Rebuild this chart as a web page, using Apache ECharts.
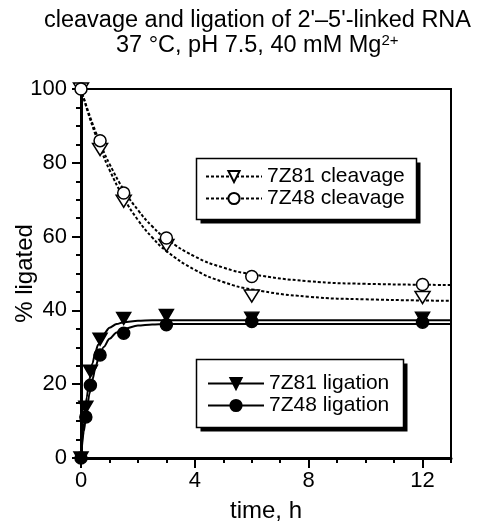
<!DOCTYPE html>
<html>
<head>
<meta charset="utf-8">
<title>cleavage and ligation of 2'-5'-linked RNA</title>
<script src="https://cdn.jsdelivr.net/npm/echarts@6/dist/echarts.min.js"></script>
<style>
    html, body {margin: 0; padding: 0; background: #fff;}
    #chartDiv {width: 478px; height: 521px;}
</style>
</head>
<body>
<div id="chartDiv"></div>
<script>
//------------------------------------------------------------------------------
// measured points (time in h, % ligated)
var cleavageTimes = [0, 0.67, 1.5, 3, 6, 12];
var cleavage7Z81 = [100, 83.6, 69.6, 57.6, 43.9, 43.5];
var cleavage7Z48 = [100, 86.0, 71.8, 59.6, 49.2, 47.0];

var ligationTimes = [0, 0.17, 0.33, 0.67, 1.5, 3, 6, 12];
var ligation7Z81 = [0, 13.8, 23.5, 32.2, 37.8, 38.6, 37.9, 37.9];
var ligation7Z48 = [0, 11.1, 19.7, 27.9, 33.8, 36.1, 37.0, 36.8];

// fitted curves
var fitCleavageTimes = [0, 0.25, 0.5, 0.75, 1, 1.5, 2, 2.5, 3, 4, 5, 6, 8, 10, 13];
var fitCleavage7Z81 = [100, 93.5, 87.8, 82.6, 78.1, 70.5, 64.5, 59.8, 56.1, 51.0, 47.7, 45.7, 43.7, 43.0, 42.6];
var fitCleavage7Z48 = [100, 94.0, 88.7, 83.9, 79.7, 72.7, 67.2, 62.8, 59.4, 54.6, 51.6, 49.8, 47.9, 47.2, 46.9];

var fitLigationTimes = [0, 0.1, 0.2, 0.3, 0.4, 0.5, 0.6, 0.8, 1, 1.25, 1.5, 2, 2.5, 3, 4, 6, 8, 10, 13];
var fitLigation7Z81 = [0, 9.4, 16.4, 21.7, 25.6, 28.5, 30.7, 33.6, 35.3, 36.3, 36.8, 37.2, 37.3, 37.3, 37.3, 37.3, 37.3, 37.3, 37.3];
var fitLigation7Z48 = [0, 7.2, 12.9, 17.5, 21.2, 24.2, 26.6, 30.1, 32.3, 34.0, 35.0, 35.9, 36.2, 36.3, 36.3, 36.3, 36.3, 36.3, 36.3];

// axis ticks / texts
var xLabelValues = [0, 4, 8, 12];
var titleLines = ["cleavage and ligation of 2'\u20135'-linked RNA", "37 \u00b0C, pH 7.5, 40 mM Mg{sup|2+}"];
var legendCleavage = ['7Z81 cleavage', '7Z48 cleavage'];
var legendLigation = ['7Z81 ligation', '7Z48 ligation'];
//------------------------------------------------------------------------------

var fontName = "'Liberation Sans', Arial, Helvetica, sans-serif";
var downTriangle = 'path://M0,0L12,0L6,10Z';

function pairs(xs, ys) {
    var out = [];
    for (var i = 0; i < xs.length; i++) {
        out.push([xs[i], ys[i]]);
    }
    return out;
}

/*
 * 拟合曲线
 * */
function fitSeries(name, xs, ys, symbol, hollow, dashed) {
    return {
        name: name,
        type: 'line',
        data: pairs(xs, ys),
        smooth: dashed ? 0.5 : 0.3,
        smoothMonotone: dashed ? null : 'x',
        symbol: symbol,
        symbolSize: 12,
        showSymbol: false,
        silent: true,
        z: 2,
        itemStyle: {color: hollow ? '#fff' : '#000', borderColor: '#000', borderWidth: 1.5},
        lineStyle: {color: '#000', width: 2, type: dashed ? [3, 2] : 'solid'}
    };
}

/*
 * 数据点
 * */
function pointSeries(name, xs, ys, symbol, size, hollow, z) {
    return {
        name: name,
        type: 'scatter',
        data: pairs(xs, ys),
        symbol: symbol,
        symbolSize: size,
        clip: false,
        silent: true,
        z: z,
        itemStyle: {color: hollow ? '#fff' : '#000', borderColor: '#000', borderWidth: 1.5, opacity: 1}
    };
}

function titleLine(text, left, top) {
    return {
        text: text,
        left: left,
        top: top,
        padding: 0,
        textStyle: {
            color: '#000',
            fontSize: 23.5,
            fontWeight: 'normal',
            fontFamily: fontName,
            lineHeight: 26,
            rich: {
                sup: {fontSize: 15, lineHeight: 15, verticalAlign: 'top', color: '#000', fontFamily: fontName}
            }
        }
    };
}

function legendBox(data, top, padding) {
    return {
        data: data,
        orient: 'vertical',
        left: 196,
        top: top,
        padding: padding,
        itemWidth: 56,
        itemHeight: 14,
        itemGap: 1,
        z: 6,
        selectedMode: false,
        textStyle: {color: '#000', fontSize: 21, lineHeight: 21, fontFamily: fontName}
    };
}

// 图例框（带阴影）
function boxWithShadow(x, y, w, h) {
    return [
        {type: 'rect', z: 5, silent: true, shape: {x: x + 4, y: y + 4, width: w, height: h}, style: {fill: '#000'}},
        {type: 'rect', z: 5, silent: true, shape: {x: x, y: y, width: w, height: h}, style: {fill: '#fff', stroke: '#000', lineWidth: 1.5}}
    ];
}

var chart = echarts.init(document.getElementById('chartDiv'));

var option = {
    backgroundColor: '#fff',
    animation: false,
    title: [
        titleLine(titleLines[0], 44, 8),
        titleLine(titleLines[1], 116, 33)
    ],
    legend: [
        legendBox(legendCleavage, 158, [8, 11, 9, 9]),
        legendBox(legendLigation, 359, [14, 15, 11, 11])
    ],
    graphic: boxWithShadow(196.5, 158.5, 220, 61).concat(boxWithShadow(196.5, 359.5, 207, 68)),
    grid: {
        left: 81,
        top: 89,
        right: 27,
        bottom: 63,
        outerBoundsMode: 'none',
        containLabel: false,
        show: true,
        borderColor: '#000',
        borderWidth: 2,
        backgroundColor: 'transparent'
    },
    xAxis: [
        {
            // minor ticks every hour
            type: 'value',
            min: 0,
            max: 13,
            interval: 1,
            axisLine: {lineStyle: {color: '#000', width: 3}},
            axisTick: {length: 5, lineStyle: {color: '#000', width: 2}},
            axisLabel: {show: false},
            splitLine: {show: false}
        },
        {
            type: 'value',
            min: 0,
            max: 13,
            interval: 4,
            position: 'bottom',
            axisLine: {show: false},
            axisTick: {length: 10, customValues: xLabelValues, lineStyle: {color: '#000', width: 2}},
            axisLabel: {customValues: xLabelValues, color: '#000', fontSize: 22, fontFamily: fontName, margin: 12},
            splitLine: {show: false},
            name: 'time, h',
            nameLocation: 'middle',
            nameGap: 41,
            nameTextStyle: {color: '#000', fontSize: 24, fontFamily: fontName}
        }
    ],
    yAxis: {
        type: 'value',
        min: 0,
        max: 100,
        interval: 20,
        axisLine: {lineStyle: {color: '#000', width: 3}},
        axisTick: {length: 9, lineStyle: {color: '#000', width: 2}},
        minorTick: {show: true, splitNumber: 4, length: 5, lineStyle: {color: '#000', width: 2}},
        minorSplitLine: {show: false},
        splitLine: {show: false},
        axisLabel: {color: '#000', fontSize: 22, fontFamily: fontName, margin: 14},
        name: '% ligated',
        nameLocation: 'middle',
        nameGap: 44,
        nameMoveOverlap: false,
        nameTextStyle: {color: '#000', fontSize: 24, fontFamily: fontName}
    },
    series: [
        fitSeries('7Z81 cleavage', fitCleavageTimes, fitCleavage7Z81, downTriangle, true, true),
        fitSeries('7Z48 cleavage', fitCleavageTimes, fitCleavage7Z48, 'circle', true, true),
        fitSeries('7Z81 ligation', fitLigationTimes, fitLigation7Z81, downTriangle, false, false),
        fitSeries('7Z48 ligation', fitLigationTimes, fitLigation7Z48, 'circle', false, false),
        pointSeries('7Z81 cleavage points', cleavageTimes, cleavage7Z81, downTriangle, [15, 12], true, 7),
        pointSeries('7Z48 cleavage points', cleavageTimes, cleavage7Z48, 'circle', 12, true, 8),
        pointSeries('7Z48 ligation points', ligationTimes, ligation7Z48, 'circle', 12, false, 7),
        pointSeries('7Z81 ligation points', ligationTimes, ligation7Z81, downTriangle, [14, 12], false, 8)
    ]
};

chart.setOption(option);
</script>
</body>
</html>
